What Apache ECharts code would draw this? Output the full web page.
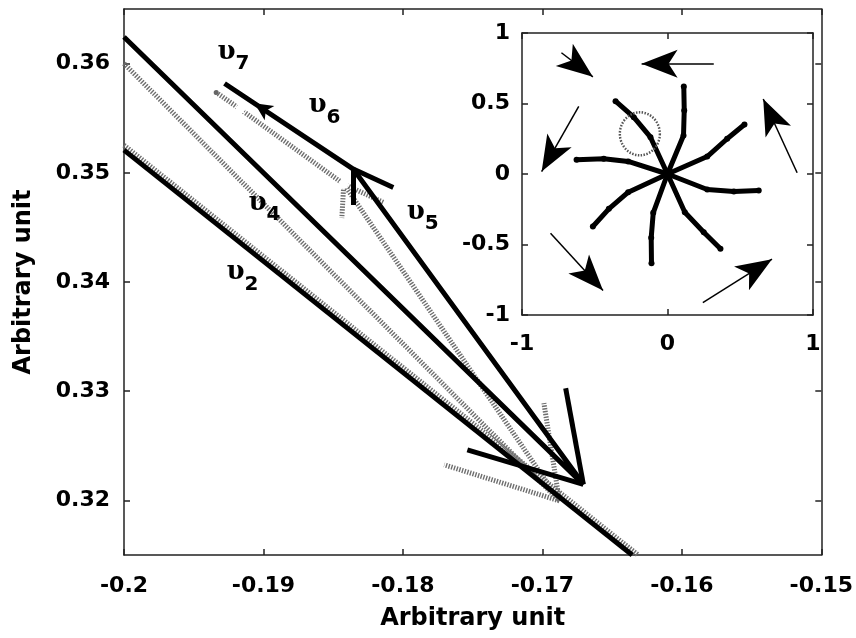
<!DOCTYPE html>
<html>
<head>
<meta charset="utf-8">
<script src="https://cdn.jsdelivr.net/npm/echarts@6/dist/echarts.min.js"></script>
<style>
  html, body { margin: 0; padding: 0; background: #fff; }
  #chart { width: 856px; height: 638px; }
</style>
</head>
<body>
<div id="chart"></div>
<script>
// tick labels
var mainXTicks = [-0.2, -0.19, -0.18, -0.17, -0.16, -0.15];
var mainYTicks = [0.32, 0.33, 0.34, 0.35, 0.36];
var insetXTicks = [-1, 0, 1];
var insetYTicks = [-1, -0.5, 0, 0.5, 1];

// main plot, black trajectory
var blackPath = [[-0.2, 0.36244], [-0.16706, 0.32147], [-0.18356, 0.35034], [-0.19279, 0.35818]];
var blackPath2 = [[-0.2, 0.35208], [-0.16356, 0.315]];
var blackBarbs = [
  [[-0.16706, 0.32147], [-0.16833, 0.33027]],
  [[-0.16706, 0.32147], [-0.17538, 0.32463]],
  [[-0.18356, 0.35034], [-0.18356, 0.34704]],
  [[-0.18356, 0.35034], [-0.18069, 0.34865]]
];
// small filled head on υ6 [from, head centre]
var blackHead = [[-0.18356, 0.35034], [-0.19064, 0.35638]];

// main plot, gray trajectory
var grayPath = [[-0.2, 0.36], [-0.16878, 0.31996], [-0.18424, 0.34897], [-0.19167, 0.35583], [-0.19339, 0.35736]];
var grayPath2 = [[-0.2, 0.35253], [-0.16313, 0.315]];
var grayBarbs = [
  [[-0.16878, 0.31996], [-0.16989, 0.3289]],
  [[-0.16878, 0.31996], [-0.17704, 0.32326]],
  [[-0.18424, 0.34897], [-0.18438, 0.34586]],
  [[-0.18424, 0.34897], [-0.18137, 0.34727]]
];
var grayEnds = [[-0.19339, 0.35736]];
var grayRings = [[-0.19167, 0.35583], [-0.18424, 0.34897]];

// υ labels: [x, y, subscript]
var vLabels = [
  [-0.19215, 0.36063, '7'],
  [-0.18563, 0.35574, '6'],
  [-0.17858, 0.34599, '5'],
  [-0.18993, 0.34682, '4'],
  [-0.1915, 0.34046, '2']
];

// inset: spokes from origin
var spokes = [
  [[0, 0], [0.11, 0.273], [0.115, 0.45], [0.112, 0.62]],
  [[0, 0], [0.273, 0.124], [0.41, 0.25], [0.529, 0.351]],
  [[0, 0], [0.273, -0.11], [0.456, -0.124], [0.627, -0.117]],
  [[0, 0], [0.119, -0.271], [0.249, -0.413], [0.364, -0.53]],
  [[0, 0], [-0.098, -0.275], [-0.112, -0.452], [-0.11, -0.633]],
  [[0, 0], [-0.27, -0.129], [-0.403, -0.247], [-0.513, -0.372]],
  [[0, 0], [-0.27, 0.089], [-0.438, 0.108], [-0.625, 0.101]],
  [[0, 0], [-0.117, 0.261], [-0.232, 0.403], [-0.357, 0.516]]
];
// inset: flow arrows [tail, head centre]
var flowArrows = [
  [[0.318, 0.782], [-0.178, 0.782]],
  [[-0.729, 0.86], [-0.513, 0.689]],
  [[-0.61, 0.479], [-0.865, 0.017]],
  [[-0.804, -0.42], [-0.443, -0.826]],
  [[0.243, -0.913], [0.718, -0.604]],
  [[0.891, 0.009], [0.658, 0.532]]
];
var insetCircle = [[-0.19, 0.285]];

var FONT = 'DejaVu Sans';
var labelStyle = { fontFamily: FONT, fontWeight: 'bold', fontSize: 22, color: '#000' };
var lineCol = '#222';
var grayLine = { color: '#6e6e6e', width: 5, type: [1.4, 1.4], opacity: 1 };

function axisBase(extra) {
  var a = {
    type: 'value',
    splitLine: { show: false },
    axisLine: { show: true, onZero: false, lineStyle: { color: lineCol, width: 1.5 } }
  };
  return Object.assign(a, extra);
}

function ticksAt(vals, showLabel, margin) {
  return {
    axisTick: { show: true, inside: true, length: 6, customValues: vals, lineStyle: { color: lineCol, width: 1.5 } },
    axisLabel: Object.assign({ show: showLabel, customValues: vals, margin: margin }, labelStyle)
  };
}

function segs(list) {
  return list.map(function (s) { return { coords: s }; });
}

var chart = echarts.init(document.getElementById('chart'));

var series = [
  // gray (hatched) trajectory
  { type: 'line', xAxisIndex: 0, yAxisIndex: 0, data: grayPath, symbol: 'none', z: 2, lineStyle: grayLine },
  { type: 'line', xAxisIndex: 0, yAxisIndex: 0, data: grayPath2, symbol: 'none', z: 2, lineStyle: grayLine },
  { type: 'lines', coordinateSystem: 'cartesian2d', xAxisIndex: 0, yAxisIndex: 0, z: 2,
    data: segs(grayBarbs), lineStyle: grayLine },
  { type: 'scatter', xAxisIndex: 0, yAxisIndex: 0, data: grayEnds, symbolSize: 5, z: 3,
    itemStyle: { color: '#666', opacity: 1 } },
  { type: 'scatter', xAxisIndex: 0, yAxisIndex: 0, data: grayRings, symbol: 'emptyCircle', symbolSize: 9, z: 3,
    itemStyle: { color: '#fff', borderColor: '#777', borderWidth: 2, borderType: [1.5, 1.5], opacity: 1 } },
  // black trajectory
  { type: 'line', xAxisIndex: 0, yAxisIndex: 0, data: blackPath, symbol: 'none', z: 4,
    lineStyle: { color: '#000', width: 5, join: 'miter' } },
  { type: 'line', xAxisIndex: 0, yAxisIndex: 0, data: blackPath2, symbol: 'none', z: 4,
    lineStyle: { color: '#000', width: 5 } },
  { type: 'lines', coordinateSystem: 'cartesian2d', xAxisIndex: 0, yAxisIndex: 0, z: 4,
    data: segs(blackBarbs), lineStyle: { color: '#000', width: 5, opacity: 1 } },
  { id: 'head6', type: 'scatter', xAxisIndex: 0, yAxisIndex: 0, z: 5,
    data: [blackHead[1]], symbol: 'arrow', symbolSize: [13, 18], itemStyle: { color: '#000', opacity: 1 } },
  // υ labels
  { type: 'scatter', xAxisIndex: 0, yAxisIndex: 0, data: vLabels, symbolSize: 1, z: 5,
    itemStyle: { color: 'rgba(0,0,0,0)', opacity: 1 },
    label: {
      show: true, position: 'inside',
      formatter: function (p) { return '{u|υ}{s|' + p.value[2] + '}'; },
      rich: {
        u: { fontFamily: 'DejaVu Serif', fontWeight: 'bold', fontSize: 26, color: '#000', verticalAlign: 'bottom', padding: [0, 0, 9, 0] },
        s: { fontFamily: FONT, fontWeight: 'bold', fontSize: 20, color: '#000', verticalAlign: 'bottom' }
      }
    } }
];

// inset spokes
spokes.forEach(function (sp) {
  series.push({ type: 'line', xAxisIndex: 2, yAxisIndex: 2, data: sp, z: 6,
    symbol: 'circle', symbolSize: 6, showSymbol: true,
    itemStyle: { color: '#000' }, lineStyle: { color: '#000', width: 5, join: 'round' } });
});
series.push({ type: 'lines', coordinateSystem: 'cartesian2d', xAxisIndex: 2, yAxisIndex: 2, z: 6,
  data: segs(flowArrows), lineStyle: { color: '#000', width: 1.5, opacity: 1 } });
series.push({ id: 'flowHeads', type: 'scatter', xAxisIndex: 2, yAxisIndex: 2, z: 7,
  data: flowArrows.map(function (a) { return a[1]; }), symbol: 'arrow', symbolSize: [21, 36],
  itemStyle: { color: '#000', opacity: 1 } });
series.push({ type: 'scatter', xAxisIndex: 2, yAxisIndex: 2, data: insetCircle, z: 6,
  symbol: 'circle', symbolSize: [40, 43],
  itemStyle: { color: 'rgba(0,0,0,0)', borderColor: '#555', borderWidth: 2.5, borderType: [1.5, 1.5], opacity: 1 } });

var option = {
  backgroundColor: '#fff',
  animation: false,
  grid: [
    { left: 124, top: 9, width: 699, height: 546, show: false },
    { left: 522, top: 33, width: 291, height: 282, show: true, backgroundColor: '#fff', borderWidth: 0 }
  ],
  xAxis: [
    axisBase(Object.assign({ gridIndex: 0, position: 'bottom', min: -0.2, max: -0.15,
      name: 'Arbitrary unit', nameLocation: 'middle', nameGap: 52,
      nameTextStyle: { fontFamily: FONT, fontWeight: 'bold', fontSize: 24, color: '#000' } },
      ticksAt(mainXTicks, true, 20))),
    axisBase(Object.assign({ gridIndex: 0, position: 'top', min: -0.2, max: -0.15 }, ticksAt(mainXTicks, false, 8))),
    axisBase(Object.assign({ gridIndex: 1, position: 'bottom', min: -1, max: 1 }, ticksAt(insetXTicks, true, 18))),
    axisBase(Object.assign({ gridIndex: 1, position: 'top', min: -1, max: 1 }, ticksAt(insetXTicks, false, 8)))
  ],
  yAxis: [
    axisBase(Object.assign({ gridIndex: 0, position: 'left', min: 0.315, max: 0.365,
      name: 'Arbitrary unit', nameLocation: 'middle', nameGap: 88,
      nameTextStyle: { fontFamily: FONT, fontWeight: 'bold', fontSize: 24, color: '#000' } },
      ticksAt(mainYTicks, true, 14))),
    axisBase(Object.assign({ gridIndex: 0, position: 'right', min: 0.315, max: 0.365 }, ticksAt(mainYTicks, false, 8))),
    axisBase(Object.assign({ gridIndex: 1, position: 'left', min: -1, max: 1 }, ticksAt(insetYTicks, true, 12))),
    axisBase(Object.assign({ gridIndex: 1, position: 'right', min: -1, max: 1 }, ticksAt(insetYTicks, false, 8)))
  ],
  series: series
};
chart.setOption(option);

// turn the arrow symbols along their segment, measured in pixels
function headAngle(gridIndex, seg) {
  var p0 = chart.convertToPixel({ gridIndex: gridIndex }, seg[0]);
  var p1 = chart.convertToPixel({ gridIndex: gridIndex }, seg[1]);
  var deg = Math.atan2(-(p1[1] - p0[1]), p1[0] - p0[0]) * 180 / Math.PI;
  return deg - 90;
}
chart.setOption({
  series: [
    { id: 'head6', data: [{ value: blackHead[1], symbolRotate: headAngle(0, blackHead) }] },
    { id: 'flowHeads', data: flowArrows.map(function (a) {
        return { value: a[1], symbolRotate: headAngle(1, a) };
      }) }
  ]
});
</script>
</body>
</html>
